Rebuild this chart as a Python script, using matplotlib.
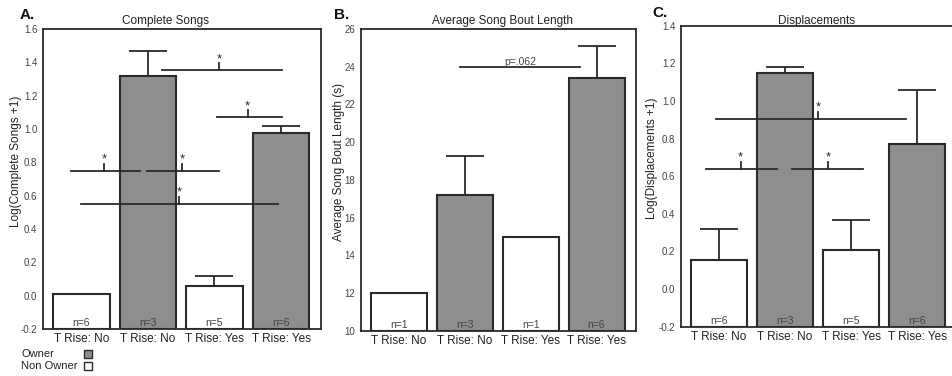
import matplotlib
matplotlib.use("Agg")
import matplotlib.pyplot as plt
from matplotlib.patches import Rectangle

plt.rcParams['font.family'] = ['Liberation Sans', 'DejaVu Sans']

categories = ["T Rise: No", "T Rise: No", "T Rise: Yes", "T Rise: Yes"]
owner = [False, True, False, True]

songs_mean = [0.01, 1.32, 0.06, 0.975]
songs_err = [0.0, 0.145, 0.06, 0.045]
songs_n = ["n=6", "n=3", "n=5", "n=6"]

bout_mean = [12.0, 17.2, 15.0, 23.4]
bout_err = [0.0, 2.05, 0.0, 1.7]
bout_n = ["n=1", "n=3", "n=1", "n=6"]

disp_mean = [0.152, 1.148, 0.209, 0.772]
disp_err = [0.167, 0.032, 0.159, 0.288]
disp_n = ["n=6", "n=3", "n=5", "n=6"]

# significance brackets: (x_start, x_end, y, x_tick, label)
songs_sig = [(1.21, 3.01, 1.352, 2.07, "*"),
             (2.04, 3.01, 1.07, 2.5, "*"),
             (-0.16, 0.88, 0.748, 0.34, "*"),
             (0.99, 2.07, 0.748, 1.51, "*"),
             (0.0, 2.95, 0.55, 1.47, "*")]
bout_sig = [(0.93, 2.75, 24.0, None, "p=.062")]
disp_sig = [(-0.05, 2.83, 0.904, 1.5, "*"),
            (-0.19, 0.88, 0.638, 0.33, "*"),
            (1.10, 2.18, 0.638, 1.65, "*")]

GRAY = "#8e8e8e"
EDGE = "#2a2a2a"
TXT = "#444444"

fig = plt.figure(figsize=(9.52, 3.76), dpi=100)


def panel(rect, means, errs, ns, ylim, yticks, yfmt, title, title_x, ylabel,
          ylabel_x, letter, letter_xy, sigs, tick_h):
    ax = fig.add_axes(rect)
    x = list(range(len(means)))
    colors = [GRAY if o else "white" for o in owner]
    heights = [m - ylim[0] for m in means]
    ax.bar(x, heights, width=0.85, color=colors, edgecolor=EDGE, linewidth=1.5,
           bottom=ylim[0], zorder=2)
    ex = [xi for xi, e in zip(x, errs) if e > 0]
    ey = [m for m, e in zip(means, errs) if e > 0]
    ee = [e for e in errs if e > 0]
    ax.errorbar(ex, ey, yerr=[[0] * len(ee), ee], fmt='none', ecolor=EDGE,
                elinewidth=1.3, capsize=14, capthick=1.3, zorder=1)
    for xi, n in zip(x, ns):
        ax.text(xi, ylim[0] + (ylim[1] - ylim[0]) * 0.004, n, ha='center',
                va='bottom', fontsize=7.5, color=TXT, zorder=3)
    for x0, x1, y, xt, lab in sigs:
        ax.plot([x0, x1], [y, y], color=EDGE, lw=1.3, zorder=4)
        if xt is not None:
            ax.plot([xt, xt], [y, y + tick_h], color=EDGE, lw=1.3, zorder=4)
            ax.text(xt, y + tick_h * 0.75, lab, ha='center', va='bottom',
                    fontsize=9.5, color=EDGE, zorder=4)
        else:
            ax.text((x0 + x1) / 2, y, lab, ha='center', va='bottom',
                    fontsize=7.5, color=TXT, zorder=4)
    ax.set_xlim(-0.575, 3.6)
    ax.set_ylim(*ylim)
    ax.set_yticks(yticks)
    ax.set_yticklabels([yfmt.format(t) for t in yticks])
    ax.set_xticks(x)
    ax.set_xticklabels(categories)
    ax.tick_params(axis='y', length=0, pad=4, labelsize=7, labelcolor=TXT)
    ax.tick_params(axis='x', length=0, pad=3, labelsize=8.5, labelcolor='#222222')
    for s in ax.spines.values():
        s.set_linewidth(1.3)
        s.set_color(EDGE)
    fig.text(title_x, 0.944, title, ha='center', va='center', fontsize=8.5,
             color='#222222')
    fig.text(ylabel_x, rect[1] + rect[3] * 0.56, ylabel, rotation=90,
             ha='center', va='center', fontsize=8.5, color='#222222')
    fig.text(letter_xy[0], letter_xy[1], letter, ha='left', va='center',
             fontsize=11, fontweight='bold', color='#111111')
    return ax


panel([0.0452, 0.125, 0.292, 0.798], songs_mean, songs_err, songs_n,
      (-0.2, 1.6), [-0.2, 0.0, 0.2, 0.4, 0.6, 0.8, 1.0, 1.2, 1.4, 1.6], "{:.1f}",
      "Complete Songs", 165 / 952, "Log(Complete Songs +1)", 16 / 952,
      "A.", (20 / 952, 1 - 15 / 376), songs_sig, 0.042)

panel([0.3792, 0.1197, 0.2889, 0.8032], bout_mean, bout_err, bout_n,
      (10, 26), [10, 12, 14, 16, 18, 20, 22, 24, 26], "{:d}",
      "Average Song Bout Length", 502 / 952, "Average Song Bout Length (s)",
      339 / 952, "B.", (334 / 952, 1 - 15 / 376), bout_sig, 0.4)

panel([0.7153, 0.1311, 0.2899, 0.8005], disp_mean, disp_err, disp_n,
      (-0.2, 1.4), [-0.2, 0.0, 0.2, 0.4, 0.6, 0.8, 1.0, 1.2, 1.4], "{:.1f}",
      "Displacements", 817 / 952, "Log(Displacements +1)", 652 / 952,
      "C.", (652 / 952, 1 - 13 / 376), disp_sig, 0.037)

# legend
fig.text(21 / 952, 1 - 354 / 376, "Owner", ha='left', va='center',
         fontsize=8, color='#222222')
fig.text(21 / 952, 1 - 366 / 376, "Non Owner", ha='left', va='center',
         fontsize=8, color='#222222')
for yy, fc in [(354, GRAY), (366, 'white')]:
    fig.patches.append(Rectangle(((87.5 - 4) / 952, 1 - (yy + 4) / 376),
                                 8 / 952, 8 / 376, transform=fig.transFigure,
                                 facecolor=fc, edgecolor=EDGE, linewidth=1.0))

fig.savefig("out.png", dpi=100)
